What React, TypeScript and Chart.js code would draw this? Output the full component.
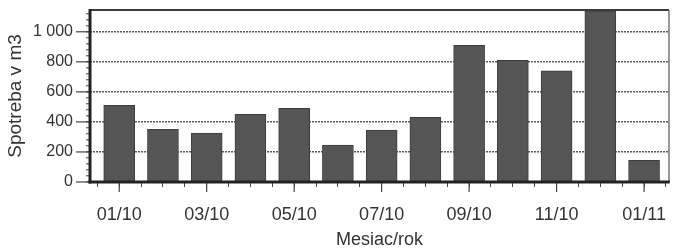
import { useEffect, useRef } from 'react';
import { Chart, registerables } from 'chart.js';

Chart.register(...registerables);

const categories = ['01/10', '02/10', '03/10', '04/10', '05/10', '06/10', '07/10', '08/10', '09/10', '10/10', '11/10', '12/10', '01/11'];
const consumption = [510, 350, 325, 450, 490, 245, 345, 430, 910, 810, 740, 1140, 145];
const labeledCategories = ['01/10', '03/10', '05/10', '07/10', '09/10', '11/10', '01/11'];
const yTickValues = [0, 200, 400, 600, 800, 1000];
const yTickLabels = ['0', '200', '400', '600', '800', '1 000'];
const yMinorStep = 40;
const yMax = 1145;
const yTitle = 'Spotreba v m3';
const xTitle = 'Mesiac/rok';

const FONT = "'Liberation Sans', Arial, sans-serif";
const TEXT = '#333333';

const xTickValues: number[] = [];
categories.forEach((_, i) => {
  xTickValues.push(i - 0.5, i);
});
xTickValues.push(categories.length - 0.5);

const yMinorTicks: number[] = [];
for (let v = 0; v < yMax; v += yMinorStep) yMinorTicks.push(v);

const framePlugin = {
  id: 'frame',
  afterDatasetsDraw(chart: any) {
    const { ctx, chartArea: a } = chart;
    const xs = chart.scales.x;
    const ys = chart.scales.y;
    const line = (x1: number, y1: number, x2: number, y2: number) => {
      ctx.beginPath();
      ctx.moveTo(x1, y1);
      ctx.lineTo(x2, y2);
      ctx.stroke();
    };
    ctx.save();
    ctx.strokeStyle = '#444';
    ctx.lineWidth = 1.2;
    yTickValues.forEach((v) => {
      const py = ys.getPixelForValue(v);
      line(a.left - 14, py, a.left, py);
    });
    labeledCategories.forEach((lab) => {
      const idx = categories.indexOf(lab);
      const px = xs.getPixelForValue(idx);
      line(px, a.bottom, px, a.bottom + 10);
    });
    ctx.strokeStyle = '#3a3a3a';
    ctx.lineWidth = 2;
    line(a.left, a.top, a.right, a.top);
    ctx.strokeStyle = '#777';
    ctx.lineWidth = 1.5;
    line(a.right, a.top, a.right, a.bottom);
    ctx.strokeStyle = '#222';
    ctx.lineWidth = 3;
    line(a.left, a.top - 1, a.left, a.bottom + 1.5);
    line(a.left - 1.5, a.bottom, a.right + 0.75, a.bottom);
    ctx.restore();
  },
};

export default function App() {
  const ref = useRef<HTMLCanvasElement | null>(null);

  useEffect(() => {
    document.body.style.margin = '0';
    const canvas = ref.current;
    if (!canvas) return;
    const chart = new Chart(canvas, {
      type: 'bar',
      data: {
        datasets: [
          {
            data: consumption.map((v, i) => ({ x: i, y: v })),
            backgroundColor: '#555555',
            borderColor: '#3d3d3d',
            borderWidth: 1,
            barThickness: 31,
          },
        ],
      },
      options: {
        responsive: false,
        maintainAspectRatio: false,
        animation: false,
        layout: { padding: { top: 10, right: 8, left: 0, bottom: 0 } },
        plugins: { legend: { display: false }, tooltip: { enabled: false } },
        scales: {
          x: {
            type: 'linear',
            min: -0.668,
            max: 12.57,
            offset: false,
            afterBuildTicks: (s: any) => {
              s.ticks = xTickValues.map((v) => ({ value: v }));
            },
            afterFit: (s: any) => {
              s.height = 67;
              s.paddingLeft = 0;
              s.paddingRight = 0;
            },
            grid: {
              display: true,
              drawOnChartArea: false,
              drawTicks: true,
              tickLength: 5,
              offset: false,
              tickColor: '#444',
              tickWidth: 1,
            },
            border: { display: false },
            ticks: {
              autoSkip: false,
              maxRotation: 0,
              minRotation: 0,
              padding: 17,
              color: TEXT,
              font: { family: FONT, size: 18 },
              callback: (v: any) => {
                const n = Number(v);
                if (!Number.isInteger(n)) return '';
                const lab = categories[n];
                return labeledCategories.includes(lab) ? lab : '';
              },
            },
            title: {
              display: true,
              text: xTitle,
              color: TEXT,
              font: { family: FONT, size: 18, lineHeight: 1 },
              padding: { top: 0, bottom: 0 },
            },
          },
          y: {
            type: 'linear',
            min: 0,
            max: yMax,
            afterBuildTicks: (s: any) => {
              s.ticks = yMinorTicks.map((v) => ({ value: v }));
            },
            afterFit: (s: any) => {
              s.width = 90;
              s.paddingTop = 0;
              s.paddingBottom = 0;
            },
            grid: {
              color: (c: any) =>
                c.tick && c.tick.value > 0 && yTickValues.includes(c.tick.value) ? '#5a5a5a' : 'rgba(0,0,0,0)',
              lineWidth: 1.6,
              tickLength: 4,
              tickColor: '#444',
              tickWidth: 1,
            },
            border: { display: false, dash: [2, 1] },
            ticks: {
              autoSkip: false,
              padding: 13,
              color: TEXT,
              font: { family: FONT, size: 16 },
              callback: (v: any) => {
                const k = yTickValues.indexOf(Number(v));
                return k >= 0 ? yTickLabels[k] : '';
              },
            },
            title: {
              display: true,
              text: yTitle,
              color: TEXT,
              font: { family: FONT, size: 19 },
              padding: { top: 4, bottom: 0 },
            },
          },
        },
      },
      plugins: [framePlugin],
    } as any);
    return () => chart.destroy();
  }, []);

  return (
    <div style={{ width: 677, height: 249, background: '#fff' }}>
      <canvas ref={ref} width={677} height={249} style={{ width: 677, height: 249, display: 'block' }} />
    </div>
  );
}
